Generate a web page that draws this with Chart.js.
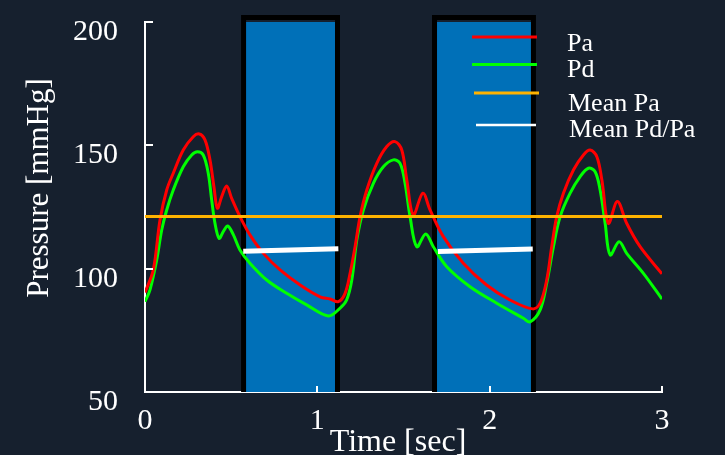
<!DOCTYPE html>
<html>
<head>
<meta charset="utf-8">
<script src="https://cdn.jsdelivr.net/npm/chart.js@4.4.1/dist/chart.umd.min.js"></script>
<style>
  html, body { margin: 0; padding: 0; background: #16202e; }
  #wrap { width: 725px; height: 455px; position: relative; }
</style>
</head>
<body>
<div id="wrap"><canvas id="pressureChart"></canvas></div>
<script>
// Pa (aortic pressure), mmHg
const paTime = [0, 0.048, 0.087, 0.126, 0.164, 0.222, 0.28, 0.315, 0.348, 0.377, 0.4, 0.42, 0.445, 0.474, 0.503, 0.551, 0.609, 0.687, 0.784, 0.9, 1.016, 1.074, 1.122, 1.161, 1.19, 1.219, 1.248, 1.287, 1.345, 1.403, 1.451, 1.49, 1.519, 1.557, 1.612, 1.654, 1.731, 1.847, 1.982, 2.118, 2.25, 2.293, 2.331, 2.36, 2.389, 2.428, 2.486, 2.544, 2.583, 2.622, 2.651, 2.689, 2.741, 2.795, 2.873, 3.0];
const paValues = [90.3, 99.5, 119.7, 131.9, 138.7, 148.1, 153.5, 154.6, 152.2, 144.1, 133.2, 124.5, 129.2, 133.5, 128.5, 121.1, 113.7, 106.2, 99.5, 93.4, 88.6, 87.7, 86.6, 90, 98.1, 108.9, 121.1, 131.9, 142.7, 149.5, 151.5, 148.1, 136, 121.8, 130.6, 123.8, 113, 102.2, 93.4, 87.3, 83.7, 86, 95.4, 108.9, 121.1, 130.6, 140, 146.1, 148.1, 145.4, 136, 118.4, 127.2, 118.4, 108.9, 97.9];

// Pd (distal pressure), mmHg
const pdTime = [0, 0.029, 0.068, 0.097, 0.126, 0.164, 0.222, 0.271, 0.304, 0.338, 0.367, 0.387, 0.406, 0.43, 0.454, 0.48, 0.513, 0.551, 0.609, 0.706, 0.822, 0.938, 1.064, 1.132, 1.17, 1.2, 1.229, 1.267, 1.325, 1.383, 1.441, 1.48, 1.509, 1.538, 1.577, 1.629, 1.673, 1.751, 1.886, 2.041, 2.196, 2.234, 2.293, 2.331, 2.37, 2.409, 2.467, 2.525, 2.573, 2.612, 2.641, 2.67, 2.699, 2.751, 2.795, 2.892, 3.0];
const pdValues = [86.6, 91.4, 103.5, 115.7, 123.8, 131.9, 141.3, 146.1, 147.4, 146.1, 138.7, 127.8, 118.4, 112.3, 115, 117.3, 113.7, 107.6, 102.2, 95.4, 90, 85.3, 80.8, 84, 87.3, 95.4, 111.6, 123.8, 134.6, 141.3, 144.1, 142.7, 134.6, 121.1, 108.9, 114.1, 108.9, 100.8, 92.7, 86, 79.9, 78.4, 83.3, 94.1, 108.9, 121.1, 130.6, 137.3, 140.7, 139.3, 131.9, 118.4, 105.6, 110.9, 106.2, 98.1, 87.7];

// mean Pa over the whole record
const meanPaTime = [0, 3];
const meanPaValue = 121.1;

// mean Pd/Pa segments (one per measurement window)
const meanSegStart = [0.57, 1.70];
const meanSegEnd = [1.122, 2.25];
const meanSegStartVal = [107.1, 107.0];
const meanSegEndVal = [108.1, 108.0];

// measurement windows (blue boxes)
const boxStart = [0.572, 1.680];
const boxEnd = [1.117, 2.254];
const boxTop = 201.8;

const seriesLabels = ['Pa', 'Pd', 'Mean Pa', 'Mean Pd/Pa'];
const xTicks = [0, 1, 2, 3];
const yTicks = [50, 100, 150, 200];

const SERIF = "'Liberation Serif', 'DejaVu Serif', serif";

function toPoints(xs, ys) {
  return xs.map((x, i) => ({ x: x, y: ys[i] }));
}

const meanSegPoints = [];
meanSegStart.forEach((s, i) => {
  meanSegPoints.push({ x: s, y: meanSegStartVal[i] });
  meanSegPoints.push({ x: meanSegEnd[i], y: meanSegEndVal[i] });
  if (i < meanSegStart.length - 1) {
    meanSegPoints.push({ x: (meanSegEnd[i] + meanSegStart[i + 1]) / 2, y: null });
  }
});

const boxSets = boxStart.map((s, i) => ({
  label: 'box' + i,
  data: [
    { x: s, y: yTicks[0] }, { x: s, y: boxTop },
    { x: boxEnd[i], y: boxTop }, { x: boxEnd[i], y: yTicks[0] }
  ],
  borderColor: '#000000',
  borderWidth: 5,
  backgroundColor: '#0070b8',
  fill: 'start',
  tension: 0,
  pointRadius: 0,
  clip: false,
  order: 10
}));

// legend drawn inside the plot, over the second box
const legendRows = [
  { y: 37, x0: 472, x1: 537, tx: 567, ty: 51, w: 3 },
  { y: 64.5, x0: 472, x1: 537, tx: 567, ty: 77, w: 3 },
  { y: 93, x0: 474, x1: 539, tx: 568, ty: 110.5, w: 3 },
  { y: 125, x0: 476, x1: 536, tx: 569, ty: 136.5, w: 2.5 }
];

const bgPlugin = {
  id: 'bg',
  beforeDraw(chart) {
    const ctx = chart.ctx;
    ctx.save();
    ctx.fillStyle = '#16202e';
    ctx.fillRect(0, 0, chart.width, chart.height);
    ctx.restore();
  }
};

const decorPlugin = {
  id: 'decor',
  afterDatasetsDraw(chart) {
    const ctx = chart.ctx;
    ctx.save();
    legendRows.forEach((r, i) => {
      const ds = chart.data.datasets[i];
      ctx.strokeStyle = ds.borderColor;
      ctx.lineWidth = r.w;
      ctx.beginPath();
      ctx.moveTo(r.x0, r.y);
      ctx.lineTo(r.x1, r.y);
      ctx.stroke();
      ctx.fillStyle = '#ffffff';
      ctx.font = '26px ' + SERIF;
      ctx.textAlign = 'left';
      ctx.textBaseline = 'alphabetic';
      ctx.fillText(ds.label, r.tx, r.ty);
    });
    ctx.restore();
  },
  afterDraw(chart) {
    const ctx = chart.ctx;
    const xs = chart.scales.x, ys = chart.scales.y;
    const area = chart.chartArea;
    ctx.save();
    // inward tick marks
    ctx.strokeStyle = '#ffffff';
    ctx.lineWidth = 2;
    yTicks.slice(1).forEach(v => {
      const py = Math.round(ys.getPixelForValue(v));
      ctx.beginPath();
      ctx.moveTo(area.left, py);
      ctx.lineTo(area.left + 8, py);
      ctx.stroke();
    });
    xTicks.slice(1).forEach(v => {
      const px = Math.round(xs.getPixelForValue(v));
      ctx.beginPath();
      ctx.moveTo(px, area.bottom);
      ctx.lineTo(px, area.bottom - 6);
      ctx.stroke();
    });
    // axis titles
    ctx.fillStyle = '#ffffff';
    ctx.font = '32px ' + SERIF;
    ctx.textAlign = 'center';
    ctx.textBaseline = 'alphabetic';
    ctx.fillText('Time [sec]', 398, 451);
    ctx.translate(48, 188);
    ctx.rotate(-Math.PI / 2);
    ctx.font = '31px ' + SERIF;
    ctx.fillText('Pressure [mmHg]', 0, 0);
    ctx.restore();
  }
};

new Chart(document.getElementById('pressureChart'), {
  type: 'line',
  data: {
    datasets: [
      {
        label: seriesLabels[0],
        data: toPoints(paTime, paValues),
        borderColor: '#ff0000',
        borderWidth: 3,
        pointRadius: 0,
        tension: 0.35,
        order: 3
      },
      {
        label: seriesLabels[1],
        data: toPoints(pdTime, pdValues),
        borderColor: '#00ff00',
        borderWidth: 3,
        pointRadius: 0,
        tension: 0.35,
        order: 4
      },
      {
        label: seriesLabels[2],
        data: toPoints(meanPaTime, meanPaTime.map(() => meanPaValue)),
        borderColor: '#ffb300',
        borderWidth: 3,
        pointRadius: 0,
        order: 2
      },
      {
        label: seriesLabels[3],
        data: meanSegPoints,
        borderColor: '#ffffff',
        borderWidth: 5,
        pointRadius: 0,
        spanGaps: false,
        order: 1
      },
      ...boxSets
    ]
  },
  options: {
    responsive: true,
    maintainAspectRatio: false,
    animation: false,
    layout: { padding: { left: 54, right: 63, top: 22, bottom: 13 } },
    plugins: { legend: { display: false }, tooltip: { enabled: false } },
    scales: {
      x: {
        type: 'linear',
        min: 0,
        max: 3,
        z: 1,
        afterBuildTicks: axis => { axis.ticks = xTicks.map(v => ({ value: v })); },
        ticks: { color: '#ffffff', font: { family: SERIF, size: 30 }, padding: 3, maxRotation: 0 },
        grid: { display: false },
        border: { display: true, color: '#ffffff', width: 2 }
      },
      y: {
        min: 50,
        max: 200,
        z: 1,
        afterBuildTicks: axis => { axis.ticks = yTicks.map(v => ({ value: v })); },
        afterFit: axis => { axis.paddingTop = 0; axis.paddingBottom = 0; },
        ticks: { color: '#ffffff', font: { family: SERIF, size: 30 }, padding: 19, labelOffset: 10 },
        grid: { display: false },
        border: { display: true, color: '#ffffff', width: 2 }
      }
    }
  },
  plugins: [bgPlugin, decorPlugin]
});
</script>
</body>
</html>
